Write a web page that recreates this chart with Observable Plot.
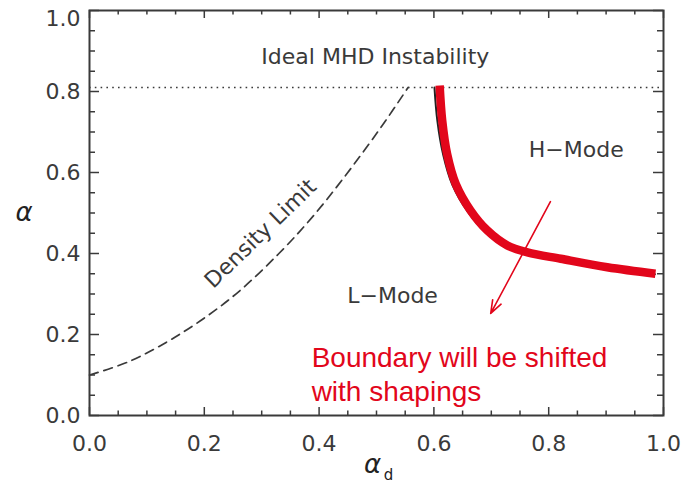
<!DOCTYPE html>
<html>
<head>
<meta charset="utf-8">
<script src="https://cdn.jsdelivr.net/npm/d3@7"></script>
<script src="https://cdn.jsdelivr.net/npm/@observablehq/plot@0.6"></script>
<style>
  html, body { margin: 0; padding: 0; background: #fff; }
  #chart svg { display: block; }
</style>
</head>
<body>
<div id="chart"></div>
<script>
// ---- data ----
const xMajorTicks = [0, 0.2, 0.4, 0.6, 0.8, 1.0];
const yMajorTicks = [0, 0.2, 0.4, 0.6, 0.8, 1.0];
const yLabelTicks = [0, 0.2, 0.4, 0.6, 0.8];
const yTopLabelTick = [1.0];
const xMinorTicks = [0.05, 0.1, 0.15, 0.25, 0.3, 0.35, 0.45, 0.5, 0.55, 0.65, 0.7, 0.75, 0.85, 0.9, 0.95];
const yMinorTicks = [0.05, 0.1, 0.15, 0.25, 0.3, 0.35, 0.45, 0.5, 0.55, 0.65, 0.7, 0.75, 0.85, 0.9, 0.95];

// Ideal MHD limit (dotted horizontal line)
const mhdLimit = [0.81];

// Density limit (dashed curve)
const densityX = [0, 0.07, 0.16, 0.25, 0.33, 0.39, 0.45, 0.51, 0.555];
const densityY = [0.10, 0.134, 0.203, 0.294, 0.40, 0.493, 0.60, 0.716, 0.81];

// L-H boundary (thin black original)
const boundaryX = [0.601, 0.606, 0.616, 0.632, 0.659, 0.689, 0.725, 0.761, 0.820, 0.901, 0.985];
const boundaryY = [0.81, 0.728, 0.645, 0.570, 0.503, 0.454, 0.418, 0.401, 0.386, 0.365, 0.349];

// L-H boundary (thick red overlay)
const redX = [0.610, 0.6145, 0.623, 0.638, 0.664, 0.693, 0.728, 0.763, 0.821, 0.902, 0.986];
const redY = [0.815, 0.728, 0.646, 0.572, 0.506, 0.457, 0.420, 0.403, 0.387, 0.366, 0.350];

// red arrow (start -> end)
const arrowStart = [0.803, 0.528];
const arrowEnd = [0.699, 0.252];

// text labels
const regionLabels = [
  {text: "Ideal MHD Instability", x: 0.498, y: 0.886, rotate: 0},
  {text: "H\u2212Mode", x: 0.848, y: 0.655, rotate: 0},
  {text: "L\u2212Mode", x: 0.528, y: 0.294, rotate: 0},
  {text: "Density Limit", x: 0.298, y: 0.449, rotate: -44}
];
const noteText = ["Boundary will be shifted\nwith shapings"];
const notePos = [0.387, 0.178];
const yLabel = ["\u03b1"];
const xLabel = ["\u03b1"];
const xLabelSub = ["d"];

// ---- build tables ----
const density = densityX.map((x, i) => ({x, y: densityY[i]}));
const boundary = boundaryX.map((x, i) => ({x, y: boundaryY[i]}));
const red = redX.map((x, i) => ({x, y: redY[i]}));
const arrows = [{x1: arrowStart[0], y1: arrowStart[1], x2: arrowEnd[0], y2: arrowEnd[1]}];
const notes = [{text: noteText[0], x: notePos[0], y: notePos[1]}];

const W = 683, H = 486;
const mL = 89, mR = 20, mT = 10, mB = 71;
const fw = W - mL - mR, fh = H - mT - mB;
const ink = "#3a3a3a";
const font = "DejaVu Sans, sans-serif";
const redColor = "#e2061b";
const fmt = d3.format(".1f");

const chart = Plot.plot({
  width: W,
  height: H,
  marginLeft: mL,
  marginRight: mR,
  marginTop: mT,
  marginBottom: mB,
  x: {domain: [0, 1]},
  y: {domain: [0, 1]},
  style: {fontFamily: font, background: "#fff", color: ink},
  marks: [
    // tick labels
    Plot.axisX({ticks: xMajorTicks, tickFormat: fmt, tickSize: 0, tickPadding: 20, fontSize: 22, label: null, fill: ink}),
    Plot.axisY({ticks: yLabelTicks, tickFormat: fmt, tickSize: 0, tickPadding: 9, fontSize: 22, label: null, fill: ink}),
    Plot.axisY({ticks: yTopLabelTick, tickFormat: fmt, tickSize: 0, tickPadding: 9, fontSize: 22, label: null, fill: ink, dy: 8}),
    // inward ticks: bottom / top
    Plot.tickX(xMajorTicks, {x: d => d, insetTop: fh - 8, stroke: ink, strokeWidth: 1.5}),
    Plot.tickX(xMinorTicks, {x: d => d, insetTop: fh - 4.5, stroke: ink, strokeWidth: 1.5}),
    Plot.tickX(xMajorTicks, {x: d => d, insetBottom: fh - 8, stroke: ink, strokeWidth: 1.5}),
    Plot.tickX(xMinorTicks, {x: d => d, insetBottom: fh - 4.5, stroke: ink, strokeWidth: 1.5}),
    // inward ticks: left / right
    Plot.tickY(yMajorTicks, {y: d => d, insetRight: fw - 10, stroke: ink, strokeWidth: 1.5}),
    Plot.tickY(yMinorTicks, {y: d => d, insetRight: fw - 6, stroke: ink, strokeWidth: 1.5}),
    Plot.tickY(yMajorTicks, {y: d => d, insetLeft: fw - 10, stroke: ink, strokeWidth: 1.5}),
    Plot.tickY(yMinorTicks, {y: d => d, insetLeft: fw - 6, stroke: ink, strokeWidth: 1.5}),
    Plot.frame({stroke: ink, strokeWidth: 2}),
    // dotted MHD limit
    Plot.ruleY(mhdLimit, {y: d => d, stroke: ink, strokeWidth: 1.6, strokeDasharray: "1.6,4.2"}),
    // dashed density limit
    Plot.line(density, {x: "x", y: "y", curve: "catmull-rom", stroke: ink, strokeWidth: 1.7, strokeDasharray: "9,6"}),
    // original black boundary
    Plot.line(boundary, {x: "x", y: "y", curve: "catmull-rom", stroke: "#222", strokeWidth: 2}),
    // red boundary
    Plot.line(red, {x: "x", y: "y", curve: "catmull-rom", stroke: redColor, strokeWidth: 8.5, strokeLinecap: "butt"}),
    // arrow
    Plot.arrow(arrows, {x1: "x1", y1: "y1", x2: "x2", y2: "y2", stroke: redColor, strokeWidth: 1.6, headLength: 13, headAngle: 40}),
    // region labels
    Plot.text(regionLabels, {x: "x", y: "y", text: "text", rotate: "rotate", fontSize: 22, fill: ink, textAnchor: "middle", lineAnchor: "middle"}),
    // red note
    Plot.text(notes, {x: "x", y: "y", text: "text", fontSize: 28, fontFamily: "Liberation Sans, Arial, sans-serif", fill: redColor, textAnchor: "start", lineAnchor: "top", lineHeight: 1.2}),
    // axis labels
    Plot.text(yLabel, {text: d => d, frameAnchor: "left", dx: -74, fontSize: 26, fill: "#222", fontStyle: "italic"}),
    Plot.text(xLabel, {text: d => d, frameAnchor: "bottom", dx: -4, dy: 57, fontSize: 26, fill: "#222", fontStyle: "italic"}),
    Plot.text(xLabelSub, {text: d => d, frameAnchor: "bottom", dx: 12, dy: 64, fontSize: 15, fill: "#222"})
  ]
});
document.getElementById("chart").appendChild(chart);
</script>
</body>
</html>
